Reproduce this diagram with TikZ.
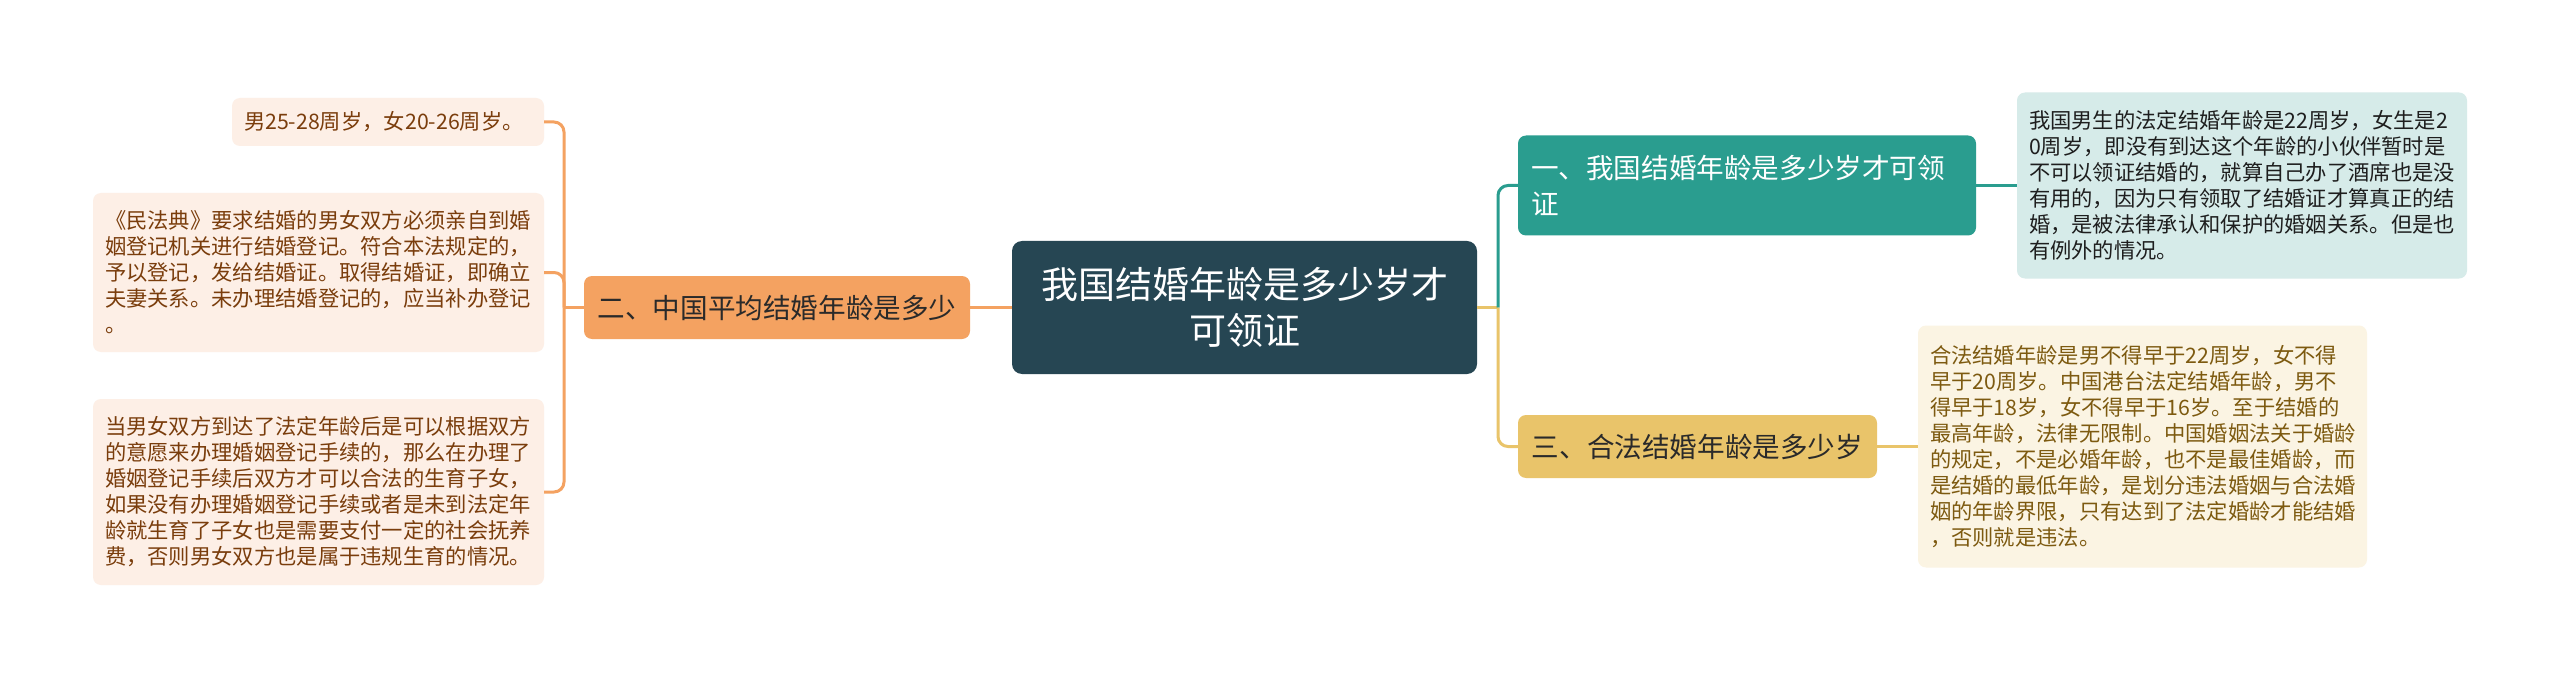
\documentclass[tikz,border=0pt]{standalone}
\usepackage{fontspec}
\setmainfont{Noto Sans CJK SC}
\definecolor{cdark}{HTML}{264653}
\definecolor{cteal}{HTML}{2A9D8F}
\definecolor{cyel}{HTML}{E9C46A}
\definecolor{corg}{HTML}{F4A261}
\definecolor{lfillL}{HTML}{FDEFE6}
\definecolor{ltextL}{HTML}{7A3D0C}
\definecolor{lfillT}{HTML}{D6EBE9}
\definecolor{ltextT}{HTML}{1E1E1E}
\definecolor{lfillY}{HTML}{FBF4E3}
\definecolor{ltextY}{HTML}{7D5A10}
\definecolor{btext}{HTML}{2A2A2A}
\begin{document}
\begin{tikzpicture}[x=1pt,y=-1pt,
  base/.style={rounded corners=8pt, inner ysep=0pt, outer sep=0pt},
  leaf/.style={base, align=left, inner xsep=12pt, font=\fontsize{21.3}{26}\selectfont},
  leafO/.style={leaf, fill=lfillL, text=ltextL},
  leafT/.style={leaf, fill=lfillT, text=ltextT},
  leafY/.style={leaf, fill=lfillY, text=ltextY},
  branch/.style={base, font=\fontsize{27.6}{36.7}\selectfont},
  conn/.style={line width=3pt}
]
\fill[white] (0,0) rectangle (2560,679);
\useasboundingbox (0,0) rectangle (2560,679);

% center
\node[base, rounded corners=10pt, fill=cdark, text=white, align=center,
      minimum width=465pt, minimum height=133pt,
      font=\fontsize{37}{46}\selectfont] (c) at (1244.5,307.5)
  {我国结婚年龄是多少岁才\\可领证};

% left branch
\node[branch, fill=corg, text=btext, align=center, minimum width=386pt, minimum height=63pt]
  (l) at (777,307.5) {二、中国平均结婚年龄是多少};

% left leaves
\node[leafO, text width=288pt, minimum width=312pt, minimum height=48pt] (l1) at (388,122)
  {男25-28周岁，女20-26周岁。};
\node[leafO, text width=427pt, minimum width=451pt, minimum height=159pt] (l2) at (318.5,272.5)
  {《民法典》要求结婚的男女双方必须亲自到婚\\姻登记机关进行结婚登记。符合本法规定的，\\予以登记，发给结婚证。取得结婚证，即确立\\夫妻关系。未办理结婚登记的，应当补办登记\\。};
\node[leafO, text width=427pt, minimum width=451pt, minimum height=186pt] (l3) at (318.5,492)
  {当男女双方到达了法定年龄后是可以根据双方\\的意愿来办理婚姻登记手续的，那么在办理了\\婚姻登记手续后双方才可以合法的生育子女，\\如果没有办理婚姻登记手续或者是未到法定年\\龄就生育了子女也是需要支付一定的社会抚养\\费，否则男女双方也是属于违规生育的情况。};

% right branches
\node[branch, fill=cteal, text=white, align=left, inner xsep=13pt, text width=432pt,
      minimum width=458pt, minimum height=100pt] (r1) at (1747,185.5)
  {一、我国结婚年龄是多少岁才可领\\证};
\node[branch, fill=cyel, text=btext, align=center, minimum width=359pt, minimum height=63pt]
  (r3) at (1697.5,446.5) {三、合法结婚年龄是多少岁};

% right leaves
\node[leafT, text width=426pt, minimum width=450pt, minimum height=186pt] (r1l) at (2242,185.5)
  {我国男生的法定结婚年龄是22周岁，女生是2\\0周岁，即没有到达这个年龄的小伙伴暂时是\\不可以领证结婚的，就算自己办了酒席也是没\\有用的，因为只有领取了结婚证才算真正的结\\婚，是被法律承认和保护的婚姻关系。但是也\\有例外的情况。};
\node[leafY, text width=425pt, minimum width=449pt, minimum height=242pt] (r3l) at (2142.5,446.5)
  {合法结婚年龄是男不得早于22周岁，女不得\\早于20周岁。中国港台法定结婚年龄，男不\\得早于18岁，女不得早于16岁。至于结婚的\\最高年龄，法律无限制。中国婚姻法关于婚龄\\的规定，不是必婚年龄，也不是最佳婚龄，而\\是结婚的最低年龄，是划分违法婚姻与合法婚\\姻的年龄界限，只有达到了法定婚龄才能结婚\\，否则就是违法。};

% connectors
\coordinate (tl) at (564,307.5);
\coordinate (tr) at (1498,307.5);
\draw[conn, corg] (c.west) -- (l.east);
\draw[conn, corg] (l.west) -- (tl);
\draw[conn, corg, rounded corners=10pt] (tl) |- (l1.east);
\draw[conn, corg, rounded corners=10pt] (tl) |- (l2.east);
\draw[conn, corg, rounded corners=10pt] (tl) |- (l3.east);
\draw[conn, cyel] (c.east) -- (tr);
\draw[conn, cteal, rounded corners=10pt] (tr) |- (r1.west);
\draw[conn, cyel, rounded corners=10pt] (tr) |- (r3.west);
\draw[conn, cteal] (r1.east) -- (r1l.west);
\draw[conn, cyel] (r3.east) -- (r3l.west);
\end{tikzpicture}
\end{document}
